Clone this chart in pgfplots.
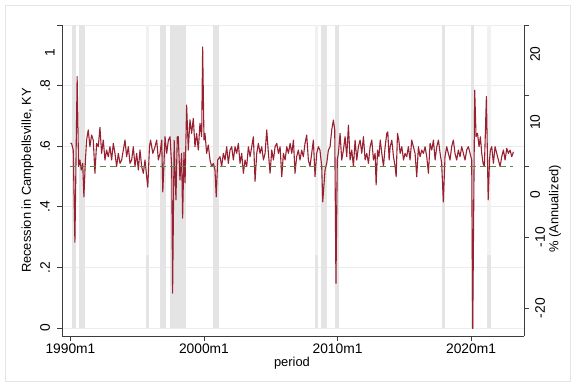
\documentclass[border=0pt]{standalone}
\usepackage{pgfplots}
\pgfplotsset{compat=1.18}
\usepackage{fontspec}
\setmainfont{Liberation Sans}
\definecolor{recgray}{RGB}{228,228,228}
\definecolor{recfaint}{RGB}{241,241,241}
\definecolor{gridgray}{RGB}{236,236,236}
\definecolor{serred}{RGB}{152,32,48}
\definecolor{dashgreen}{RGB}{95,130,70}
\definecolor{framegray}{RGB}{228,228,228}
\definecolor{axgray}{RGB}{60,60,60}
\begin{document}
\begin{tikzpicture}
\useasboundingbox (0,0) rectangle (576bp,388bp);
\draw[framegray, line width=0.8bp] (5.5bp,6.5bp) rectangle (570.5bp,382.5bp);
\begin{axis}[
  at={(62bp,52bp)}, anchor=south west,
  width=462bp, height=311bp, scale only axis,
  xmin=-7.6, xmax=407.6, ymin=-0.0264, ymax=1,
  axis x line*=bottom, axis y line*=left,
  xtick={0,120,240,360}, xticklabels={1990m1,2000m1,2010m1,2020m1},
  ytick={0,0.2,0.4,0.6,0.8,1}, yticklabels={0,.2,.4,.6,.8,{}},
  extra y ticks={0.908}, extra y tick labels={1},
  extra y tick style={grid=none, major tick length=0pt},
  ymajorgrids, grid style={gridgray, line width=0.8bp},
  tick align=outside, major tick length=5bp,
  axis line style={axgray, line width=0.8bp},
  tick style={axgray, line width=0.8bp},
  tick label style={font=\fontsize{13.8bp}{16bp}\selectfont},
  yticklabel style={xshift=-12bp, anchor=center, rotate=90},
  xticklabel style={anchor=center, yshift=-8bp},
  xlabel={period}, ylabel={Recession in Campbellsville, KY},
  every axis x label/.style={at={(axis description cs:0.4978,-0.0868)}, anchor=center, font=\fontsize{12.9bp}{15bp}\selectfont},
  every axis y label/.style={at={(axis description cs:-0.0747,0.5)}, anchor=center, rotate=90, font=\fontsize{12.9bp}{15bp}\selectfont},
]
\addplot[fill=recgray, draw=none] coordinates {(1,1) (5,1)} \closedcycle;
\addplot[fill=recgray, draw=none] coordinates {(8,1) (13.5,1)} \closedcycle;
\addplot[fill=recfaint, draw=none] coordinates {(68,1) (70.5,1)} \closedcycle;
\addplot[fill=recgray, draw=none] coordinates {(68,0.24) (70.5,0.24)} \closedcycle;
\addplot[fill=recgray, draw=none] coordinates {(80.5,1) (86,1)} \closedcycle;
\addplot[fill=recgray, draw=none] coordinates {(89.5,1) (103.5,1)} \closedcycle;
\addplot[fill=recgray, draw=none] coordinates {(128.5,1) (133.5,1)} \closedcycle;
\addplot[fill=recfaint, draw=none] coordinates {(220,1) (222.5,1)} \closedcycle;
\addplot[fill=recgray, draw=none] coordinates {(220,0.24) (222.5,0.24)} \closedcycle;
\addplot[fill=recgray, draw=none] coordinates {(225,1) (230.5,1)} \closedcycle;
\addplot[fill=recgray, draw=none] coordinates {(237.8,1) (241,1)} \closedcycle;
\addplot[fill=recgray, draw=none] coordinates {(333.8,1) (336.6,1)} \closedcycle;
\addplot[fill=recgray, draw=none] coordinates {(360,1) (363,1)} \closedcycle;
\addplot[fill=recfaint, draw=none] coordinates {(374.7,1) (377.5,1)} \closedcycle;
\addplot[fill=recgray, draw=none] coordinates {(374.7,0.24) (377.5,0.24)} \closedcycle;
\end{axis}
\begin{axis}[
  at={(62bp,52bp)}, anchor=south west,
  width=462bp, height=311bp, scale only axis,
  xmin=-7.6, xmax=407.6, ymin=-23.95, ymax=20,
  axis x line=none, axis y line*=right,
  ytick={-20,-10,0,10,20}, yticklabels={-20,-10,{},{},{}},
  extra y ticks={-4.03,6.29,15.9}, extra y tick labels={0,10,20},
  extra y tick style={grid=none, major tick length=0pt},
  tick align=outside, major tick length=5bp,
  axis line style={axgray, line width=0.8bp},
  tick style={axgray, line width=0.8bp},
  tick label style={font=\fontsize{13.8bp}{16bp}\selectfont},
  yticklabel style={xshift=11bp, anchor=center, rotate=90},
  ylabel={\% (Annualized)},
  every axis y label/.style={at={(axis description cs:1.0671,0.4084)}, anchor=center, rotate=90, font=\fontsize{12.9bp}{15bp}\selectfont},
]
\addplot[serred, line width=1.1bp, line join=round] coordinates {
(0,3.3) (1,3.27) (2.5,2.33) (4,-10.7) (5,0.92) (6,12.7) (7.3,0) (8.5,0.92) (9.7,-0.49) (11,0.45)
(12.1,-4.3) (13.3,0.45) (14.5,3.74) (16,5.16) (17.5,2.8) (19,4.45) (20.5,3.74) (22,-0.96) (23.5,3.27) (25,2.8)
(26.5,5.53) (28,1.86) (29.5,3.74) (31,0.92) (32.5,2.33) (34,1.39) (35.5,2.8) (37,0.92) (38.5,3.27) (40,1.86)
(41.5,0) (43,1.86) (44.5,0.45) (46,0.92) (47.5,2.33) (49,3.74) (50.5,1.39) (52,2.8) (53.5,0.45) (55,0.92)
(56.5,2.8) (58,0) (59.5,1.86) (61,-0.49) (62.5,2.33) (64,0) (65.5,-0.96) (67,0.92) (68.5,-1.44) (69.5,-2.9)
(71,2.8) (72,3.74) (74,1.86) (76,2.8) (77.5,3.74) (79,0.92) (80.5,1.86) (82,3.74) (83,-3.6) (85,4.21)
(86.5,1.86) (88,3.74) (89.5,4.21) (91,0) (91.8,-17.9) (93.2,3.7) (94.8,-4.7) (96,4.2) (96.9,4.2) (98.4,-1.9)
(99.9,1.86) (100.8,-7.3) (102,2.0) (103,-2.3) (104.4,8.7) (105.9,2.33) (107.4,6.6) (108.9,4.69) (110.4,6.8) (111.9,2.8)
(113.4,4.69) (114.9,2.33) (116.4,6.1) (117.9,4.21) (118.8,16.9) (120,3.74) (120.9,4.69) (122.4,1.86) (123.9,3.04) (125.4,0.92)
(126.9,0) (128.4,0.45) (129.9,-0.49) (131,-4.3) (132.3,0.92) (134.4,1.39) (135.9,0) (137.4,1.86) (138.9,0.92) (140.4,2.8)
(141.9,0.45) (143.4,2.33) (144.9,2.8) (146.4,0.92) (147.9,2.8) (149.4,1.86) (150.9,3.27) (152.4,0.45) (153.9,1.86) (155.4,-0.96)
(156.9,0.92) (158.4,0) (159.9,2.8) (161.4,1.39) (162.9,2.8) (164.4,4.21) (165.9,-2.1) (167.4,1.86) (168.9,3.27) (170.4,1.86)
(171.9,2.8) (173.4,0.92) (174.9,1.86) (176.4,5.16) (177.9,1.86) (179.4,-0.96) (180.9,2.33) (182.4,0.92) (183.9,2.8) (185.4,3.27)
(186.9,1.86) (188.4,2.8) (189.9,-1.44) (191.4,1.86) (192.9,0.92) (194.4,2.8) (195.9,1.86) (197.4,3.27) (198.9,1.86) (200.4,3.74)
(201.8,-0.96) (203.3,1.39) (204.8,2.33) (206.3,0.92) (207.8,2.33) (209.3,1.39) (210.8,3.27) (212.3,4.45) (213.8,0.92) (215.3,0)
(216.8,1.86) (218.3,3.74) (219.8,-1.44) (221.3,1.86) (222.8,2.8) (224.2,2.33) (225.8,0) (226.7,-5.0) (228.8,-0.49) (230.3,0.45)
(231.8,2.33) (233.3,2.8) (234.8,5.16) (236.3,6.57) (237.5,5.16) (238.6,-16.5) (239.8,1.0) (240.8,1.86) (242.3,4.69) (243.8,0.92)
(245.3,2.33) (246.8,4.21) (248.3,1.39) (249.8,5.86) (251.3,0.92) (252.8,2.33) (254.3,0) (255.8,3.74) (257.3,0.92) (258.8,2.8)
(260.3,3.74) (261.8,1.86) (263.3,4.21) (264.8,0.92) (266.3,1.86) (267.8,0.45) (269.3,2.8) (270.8,3.74) (272.3,0.92) (273.8,1.86)
(274.7,-2.6) (276,2.33) (277.2,1.4) (278.4,3.74) (279.8,1.86) (281.3,0) (282.8,2.8) (284.3,4.69) (285.2,4.9) (286.4,0.92)
(287.3,2.8) (288.8,3.74) (290.3,1.39) (291.8,0) (292.7,-1.44) (293.9,4.69) (295.1,3.74) (296.3,1.86) (297.8,2.8) (299.3,0.92)
(300.7,1.86) (302.2,1.39) (303.7,2.8) (305.2,0.92) (306.7,3.74) (308.2,2.8) (309.7,1.86) (311.2,-1.44) (312.7,2.8) (314.2,1.39)
(315.7,2.33) (317.2,1.86) (318.7,2.8) (320.2,1.39) (321.7,-0.96) (323.2,3.27) (324.7,2.33) (326.2,3.74) (327.7,0.92) (329.2,2.8)
(330.7,3.74) (332.2,1.86) (333.6,0.45) (335.1,-5.0) (336.6,1.39) (338.1,2.8) (339.6,1.86) (341.1,0.92) (342.6,2.8) (344.1,3.74)
(345.6,1.86) (347.1,0.92) (348.6,2.33) (350.1,1.39) (351.6,2.8) (353.1,1.86) (354.6,0.92) (356.1,2.33) (357.6,2.8) (359.1,1.86)
(360.6,0.92) (361.5,-22.9) (363.3,10.8) (364.5,4.21) (365.8,4.69) (367.2,2.8) (368.4,4.21) (369.6,1.86) (370.8,0.45) (372,0)
(373.8,9.9) (375.4,-4.7) (376.6,0.92) (377.4,2.33) (378.6,2.8) (380.1,0.45) (381.6,2.8) (383.1,1.86) (384.6,0.92) (386.1,0)
(387.6,1.39) (389.1,2.33) (390.6,0.92) (392.1,2.57) (393.6,1.86) (395.1,2.33) (396.6,1.39) (398.1,2.09)
};
\addplot[dashgreen, line width=0.9bp, dash pattern=on 6bp off 4bp] coordinates {(0,0) (398,0)};
\end{axis}
\end{tikzpicture}
\end{document}
